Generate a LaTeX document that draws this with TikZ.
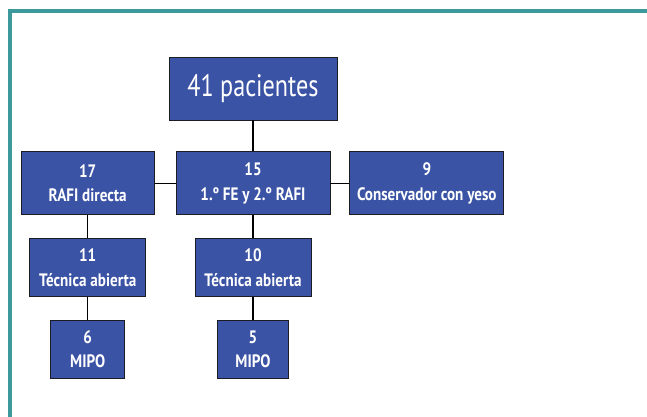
\documentclass[tikz,border=0pt]{standalone}
\usepackage{fontspec}
\setmainfont{PT Sans}
\newfontfamily\boxfont{PT Sans}[FakeStretch=0.84]
\newfontfamily\titlefont{PT Sans}[FakeStretch=0.78]
\usetikzlibrary{positioning}
\definecolor{boxblue}{HTML}{3B53A4}
\definecolor{frameteal}{HTML}{3D9A9C}
\definecolor{edgedark}{HTML}{1C1C24}

\begin{document}
\begin{tikzpicture}[
        x=1pt, y=1pt,
        node distance=23pt and 20pt,
        every node/.style={draw=edgedark, fill=boxblue, text=white, align=center,
            inner sep=0pt, minimum height=63pt, line width=0.8pt,
            font=\boxfont\fontsize{18}{24.5}\selectfont\bfseries},
        link/.style={draw, line width=1.5pt}
    ]
    \useasboundingbox (0,0) rectangle (647,-417);

    % Frame
    \draw[frameteal, line width=4pt] (8,-11) -- (647,-11);
    \draw[frameteal, line width=4pt] (10,-9) -- (10,-417);

    % Nodes
    \node (total) at (253,-88.5) [minimum width=168pt, font=\titlefont\fontsize{31}{36}\selectfont] {41 pacientes};
    \node (fe) [below=31pt of total, minimum width=154pt] {15\\1.º FE y 2.º RAFI};
    \node (rafi) [left=21pt of fe, minimum width=133pt] {17\\RAFI directa};
    \node (yeso) [right=19pt of fe, minimum width=154pt] {9\\Conservador con yeso};
    \node (abiertaA) [below=of rafi, minimum width=116pt, minimum height=58pt] {11\\Técnica abierta};
    \node (abiertaB) [below=of fe, minimum width=116pt, minimum height=58pt] {10\\Técnica abierta};
    \node (mipoA) [below=of abiertaA, minimum width=74pt, minimum height=58pt] {6\\MIPO};
    \node (mipoB) [below=of abiertaB, minimum width=71pt, minimum height=58pt] {5\\MIPO};

    % Lines
    \path[link] (total) -- (fe);
    \path[link] (fe) -- (rafi);
    \path[link] (fe) -- (yeso);
    \path[link] (rafi) -- (abiertaA);
    \path[link] (fe) -- (abiertaB);
    \path[link] (abiertaA) -- (mipoA);
    \path[link] (abiertaB) -- (mipoB);

\end{tikzpicture}
\end{document}
